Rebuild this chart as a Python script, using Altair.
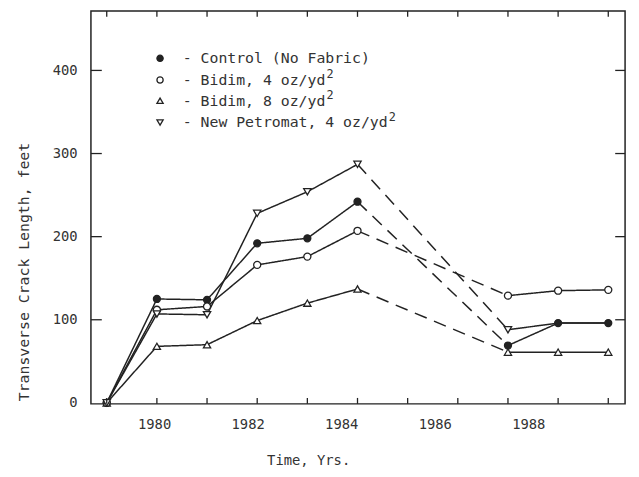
import altair as alt
import pandas as pd

# ---- data ----
years = [1979, 1980, 1981, 1982, 1983, 1984, 1987, 1988, 1989]
control = [0, 125, 124, 192, 198, 242, 69, 96, 96]
bidim4 = [0, 112, 116, 166, 176, 207, 129, 135, 136]
bidim8 = [0, 68, 70, 99, 120, 137, 61, 61, 61]
petromat = [0, 107, 106, 228, 254, 287, 88, 96, 96]

series_keys = ["control", "bidim4", "bidim8", "petromat"]
series_vals = [control, bidim4, bidim8, petromat]
legend_text = ["- Control (No Fabric)", "- Bidim, 4 oz/yd", "- Bidim, 8 oz/yd", "- New Petromat, 4 oz/yd"]
legend_sup = ["", "2", "2", "2"]
tick_labels = [1980, 1982, 1984, 1986, 1988]
tick_years = list(range(1979, 1990))
y_labels = [0, 100, 200, 300, 400]
y_ticks = [100, 200, 300, 400]

INK = "#222222"
TXT = "#333333"
FONT = "DejaVu Sans Mono"
W, H = 541, 398

# ---- build tables ----
rows = []
pts = []
for key, vals in zip(series_keys, series_vals):
    for yr, v in zip(years, vals):
        if yr <= 1984:
            rows.append(dict(series=key, seg=key + "_a", style="solid", year=yr, value=v))
        if yr >= 1987:
            rows.append(dict(series=key, seg=key + "_c", style="solid", year=yr, value=v))
        if yr in (1984, 1987):
            rows.append(dict(series=key, seg=key + "_b", style="dashed", year=yr, value=v))
        if not (key == "petromat" and yr > 1987):
            pts.append(dict(series=key, year=yr, value=v))
lines_df = pd.DataFrame(rows)
pts_df = pd.DataFrame(pts)

xscale = alt.Scale(domain=[1978.685, 1989.335], nice=False, zero=False)
yscale = alt.Scale(domain=[-1.2, 471.6], nice=False, zero=False)
lblscale = alt.Scale(domain=[1978.649, 1990.069], nice=False, zero=False)

shape_scale = alt.Scale(domain=series_keys,
                        range=["circle", "circle", "triangle-up", "triangle-down"])
fill_scale = alt.Scale(domain=series_keys, range=[INK, "white", "white", "white"])
size_scale = alt.Scale(domain=series_keys, range=[50, 55, 80, 80])

yaxis = alt.Axis(values=y_labels, ticks=False, domain=False, grid=False,
                 labelFont=FONT, labelFontSize=14, labelColor=TXT, labelPadding=14,
                 title="Transverse Crack Length, feet", titleFont=FONT, titleFontSize=15,
                 titleFontWeight="normal", titleColor=TXT, titleX=-60, titleY=264,
                 titleAngle=-90, titleAlign="center")

lines = alt.Chart(lines_df).mark_line(color=INK, strokeWidth=1.5).encode(
    x=alt.X("year:Q", scale=xscale, axis=None),
    y=alt.Y("value:Q", scale=yscale, axis=yaxis),
    detail="seg:N",
    strokeDash=alt.StrokeDash("style:N", scale=alt.Scale(domain=["solid", "dashed"],
                                                         range=[[1, 0], [13, 8]]), legend=None),
)

points = alt.Chart(pts_df).mark_point(filled=True, stroke=INK, strokeWidth=1.3, opacity=1).encode(
    x=alt.X("year:Q", scale=xscale, axis=None),
    y=alt.Y("value:Q", scale=yscale),
    shape=alt.Shape("series:N", scale=shape_scale, legend=None),
    fill=alt.Fill("series:N", scale=fill_scale, legend=None),
    size=alt.Size("series:N", scale=size_scale, legend=None),
)

# inward ticks
xt_df = pd.DataFrame({"year": tick_years})
xt_bot = alt.Chart(xt_df).mark_rule(color=INK, strokeWidth=1.3).encode(
    x=alt.X("year:Q", scale=xscale, axis=None), y=alt.value(H), y2=alt.value(H - 6))
xt_top = alt.Chart(xt_df).mark_rule(color=INK, strokeWidth=1.3).encode(
    x=alt.X("year:Q", scale=xscale, axis=None), y=alt.value(0), y2=alt.value(6))
yt_df = pd.DataFrame({"value": y_ticks})
yt_left = alt.Chart(yt_df).mark_rule(color=INK, strokeWidth=1.3).encode(
    y=alt.Y("value:Q", scale=yscale), x=alt.value(0), x2=alt.value(11))
yt_right = alt.Chart(yt_df).mark_rule(color=INK, strokeWidth=1.3).encode(
    y=alt.Y("value:Q", scale=yscale), x=alt.value(W), x2=alt.value(W - 10))

# x labels axis (typed labels sit on their own scale)
lbl_df = pd.DataFrame({"year": tick_labels})
lbl_layer = alt.Chart(lbl_df).mark_point(opacity=0).encode(
    x=alt.X("year:Q", scale=lblscale,
            axis=alt.Axis(values=tick_labels, format="d", ticks=False, domain=False, grid=False,
                          labelFont=FONT, labelFontSize=14, labelColor=TXT, labelPadding=14,
                          title="Time, Yrs.", titleFont=FONT, titleFontSize=14,
                          titleFontWeight="normal", titleColor=TXT, titlePadding=22,
                          titleX=220, titleAlign="center")),
    y=alt.value(0),
)

# legend (manual, to keep the superscripts)
leg_rows = [48, 70, 91, 113]
leg_df = pd.DataFrame({"series": series_keys, "text": legend_text, "sup": legend_sup,
                       "row": leg_rows,
                       "supx": [93 + len(t) * 9.03 + 1 for t in legend_text]})
leg_sym = alt.Chart(leg_df).mark_point(filled=True, stroke=INK, strokeWidth=1.3, opacity=1).encode(
    x=alt.value(70), y=alt.Y("row:Q", scale=None),
    shape=alt.Shape("series:N", scale=shape_scale, legend=None),
    fill=alt.Fill("series:N", scale=fill_scale, legend=None),
    size=alt.value(40),
)
leg_txt = alt.Chart(leg_df).mark_text(align="left", baseline="middle", font=FONT,
                                      fontSize=15, color=TXT).encode(
    x=alt.value(93), y=alt.Y("row:Q", scale=None), text="text:N")
leg_sup = alt.Chart(leg_df).mark_text(align="left", baseline="middle", font=FONT,
                                      fontSize=12, color=TXT, dy=-6).encode(
    x=alt.X("supx:Q", scale=None), y=alt.Y("row:Q", scale=None), text="sup:N")

chart = alt.layer(
    lbl_layer, lines, points, xt_bot, xt_top, yt_left, yt_right, leg_sym, leg_txt, leg_sup
).resolve_scale(x="independent").properties(
    width=W, height=H,
    autosize=alt.AutoSizeParams(type="none"),
    padding={"left": 84, "top": 0, "right": 6, "bottom": 62},
    background="white",
).configure_view(stroke=INK, strokeWidth=1.5)

chart.save("out.html", embed_options={"renderer": "svg", "actions": False})
